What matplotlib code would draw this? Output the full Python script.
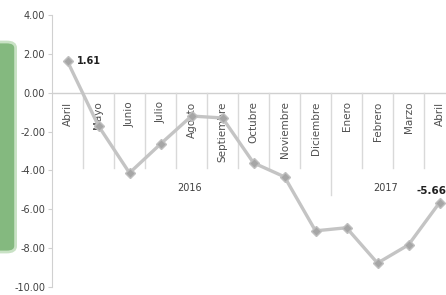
import numpy as np
import matplotlib.pyplot as plt
from matplotlib.patches import FancyBboxPatch

# -----------------------------
# Data
# -----------------------------
months = ["Abril", "Mayo", "Junio", "Julio", "Agosto", "Septiembre", "Octubre",
          "Noviembre", "Diciembre", "Enero", "Febrero", "Marzo", "Abril"]
years = ["2016", "2017"]
year_sizes = [9, 4]
values = [1.61, -1.71, -4.13, -2.64, -1.20, -1.30, -3.61,
          -4.33, -7.11, -6.95, -8.77, -7.83, -5.66]
yticks = [4, 2, 0, -2, -4, -6, -8, -10]

x = np.arange(len(months))

fig = plt.figure(figsize=(4.46, 2.95), dpi=100)
ax = fig.add_axes([52 / 446, 8 / 295, 403 / 446, 272 / 295])

# green box cut off on the left edge
box = FancyBboxPatch((-0.05, 43 / 295), 0.085, 210 / 295,
                     boxstyle="round,pad=0,rounding_size=0.02",
                     transform=fig.transFigure, facecolor="#84b97f",
                     edgecolor="#c9e2c5", linewidth=2, zorder=0)
fig.patches.append(box)

ax.plot(x, values, color="#c4c4c4", linewidth=2.4, marker="D", markersize=5,
        markerfacecolor="#a6a6a6", markeredgecolor="#bfbfbf", zorder=3)

ax.set_xlim(-0.5, len(months) - 0.5)
ax.set_ylim(-10, 4)
ax.set_yticks(yticks)
ax.set_yticklabels([f"{v:.2f}" for v in yticks], fontsize=7, color="#404040",
                   family="Liberation Sans Narrow")
ax.set_xticks([])
for s in ["top", "right", "bottom"]:
    ax.spines[s].set_visible(False)
ax.spines["left"].set_color("#d0d0d0")
ax.tick_params(axis="y", length=3, color="#d0d0d0", pad=2)

# category axis at zero
ax.axhline(0, color="#d0d0d0", linewidth=1, zorder=1)
for i in range(len(months) - 1):
    bottom = -5.27 if i == year_sizes[0] - 1 else -3.87
    ax.plot([i + 0.5, i + 0.5], [0, bottom], color="#d9d9d9", linewidth=1, zorder=1)

for xi, m in zip(x, months):
    ax.text(xi, -0.45, m, rotation=90, ha="center", va="top", fontsize=7.5,
            color="#505050", zorder=2)

ax.text(3.95, -4.9, years[0], ha="center", va="center", fontsize=7,
        color="#404040", family="Liberation Sans Narrow")
ax.text(10.25, -4.9, years[1], ha="center", va="center", fontsize=7,
        color="#404040", family="Liberation Sans Narrow")

# data labels
ax.text(x[0] + 0.3, values[0], f"{values[0]:.2f}", ha="left", va="center",
        fontsize=7, fontweight="bold", color="#202020",
        family="Liberation Sans Narrow")
ax.text(x[-1] - 0.75, values[-1] + 0.35, f"{values[-1]:.2f}", ha="left", va="bottom",
        fontsize=7.5, fontweight="bold", color="#202020",
        family="Liberation Sans Narrow")

fig.savefig("out.png", dpi=100)
